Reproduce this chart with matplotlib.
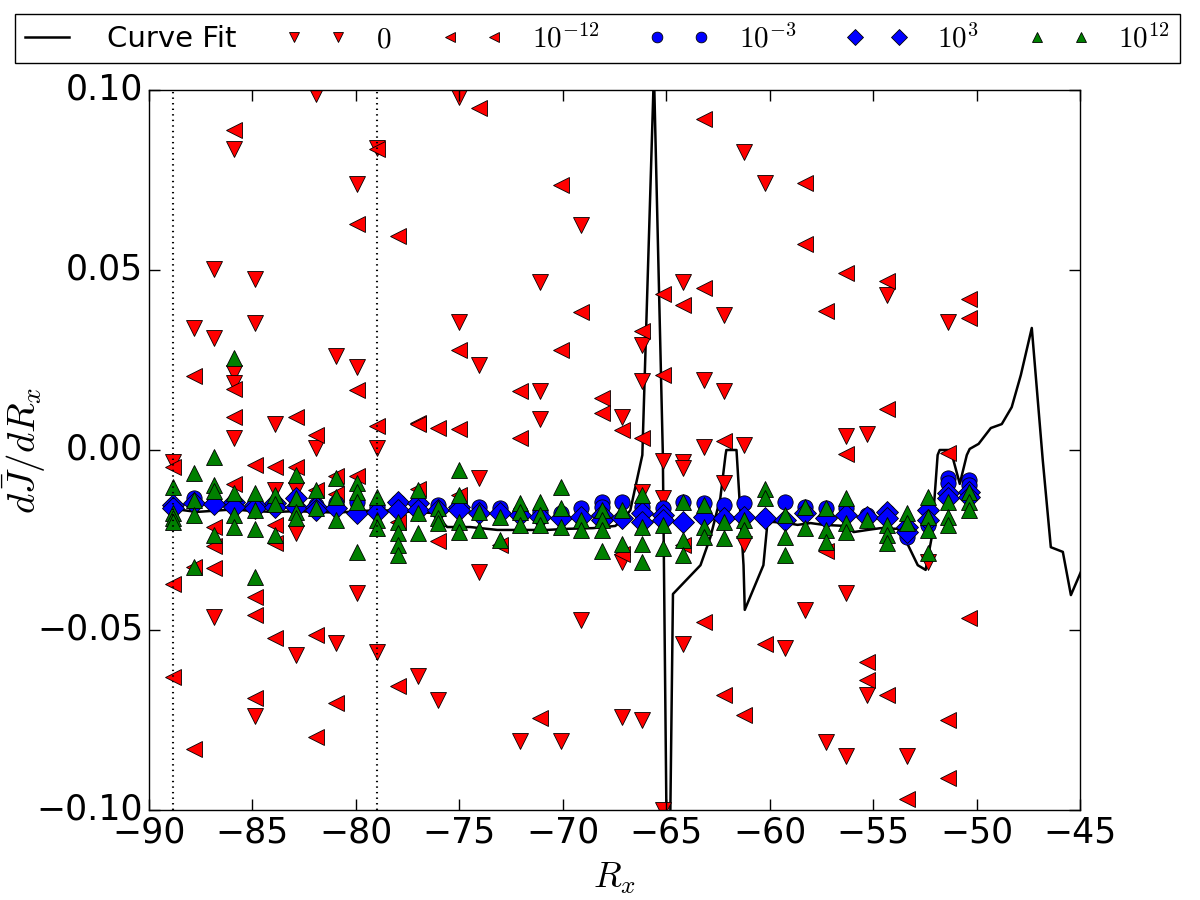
import numpy as np
import matplotlib
matplotlib.use('Agg')
import matplotlib.pyplot as plt
from matplotlib.lines import Line2D
from matplotlib.legend_handler import HandlerLine2D

plt.style.use('classic')

# column positions of R_x (one per scan step)
rx = [-88.82, -87.83, -86.85, -85.86, -84.88, -83.89, -82.91, -81.92, -80.93, -79.95,
      -78.96, -77.98, -76.99, -76.01, -75.02, -74.04, -73.05, -72.06, -71.08, -70.09,
      -69.11, -68.12, -67.14, -66.15, -65.16, -64.18, -63.19, -62.21, -61.22, -60.24,
      -59.25, -58.27, -57.28, -56.29, -55.31, -54.32, -53.34, -52.35, -51.37, -50.38]

# series "0" (down triangles): (column index, value)
zero_col = [7, 3, 9, 10, 2, 4, 1, 2, 4, 3, 3, 8, 9, 3, 5, 7, 10, 0, 6, 5, 6, 9, 2, 8, 6, 10, 4,
            14, 20, 18, 14, 15, 18, 18, 15,
            28, 29, 25, 27, 23, 23, 26, 27, 22, 26, 28, 24, 25, 33, 35, 38, 34,
            23, 24, 25, 27, 28, 37,
            12, 13, 15, 17, 19, 20, 22, 22, 23, 24, 25, 30, 31, 32, 33, 33, 34, 36]
zero_y = [0.099, 0.0836, 0.0739, 0.084, 0.0503, 0.0475, 0.0339, 0.031, 0.0353, 0.0214, 0.0186,
          0.0261, 0.023, 0.0033, 0.0072, 0.0006, 0.0006, -0.0033, -0.011, -0.011, -0.023, -0.0397,
          -0.0464, -0.0536, -0.057, -0.056, -0.074,
          0.098, 0.0625, 0.0467, 0.0356, 0.0236, 0.0164, 0.0086, -0.0079,
          0.0828, 0.0742, 0.0467, 0.0375, 0.0292, 0.0192, 0.0194, 0.0164, 0.0092, 0.0008, 0.0014,
          -0.0030, -0.0032, 0.0040, 0.043, 0.0356, 0.0044,
          -0.0116, -0.0134, -0.005, -0.0093, -0.026, -0.031,
          -0.0628, -0.0694, -0.0339, -0.0808, -0.0808, -0.0472, -0.0742, -0.0311, -0.075, -0.100,
          -0.054, -0.055, -0.0444, -0.081, -0.085, -0.0397, -0.068, -0.085]

# series 1e-12 (left triangles)
em12_col = [3, 9, 10, 1, 3, 9, 3, 6, 7, 10, 4, 5, 6, 0, 3, 8, 9, 7, 8, 2, 2, 5, 5, 1, 2, 0, 4, 4,
            5, 7, 0, 4, 8, 7, 1,
            15, 19, 11, 20, 14, 19, 17, 21, 21, 12, 12, 13, 14, 17,
            26, 31, 31, 33, 26, 24, 25, 32, 23, 24, 22, 23, 27, 33, 35, 39, 39, 35, 38,
            11, 12, 13, 14, 16, 22, 25, 32,
            11, 18, 26, 27, 28, 29, 34, 34, 35, 36, 38, 38, 39]
em12_y = [0.089, 0.0628, 0.0836, 0.0206, 0.0169, 0.0167, 0.0092, 0.0092, 0.0042, 0.0067, -0.0042,
          -0.0047, -0.0047, -0.0047, -0.0094, -0.0072, -0.0072, -0.011, -0.0122, -0.0214, -0.0267,
          -0.0208, -0.0258, -0.0325, -0.0328, -0.0372, -0.0408, -0.0458, -0.0522, -0.0514, -0.063,
          -0.069, -0.0703, -0.0797, -0.083,
          0.095, 0.0736, 0.0594, 0.0383, 0.0278, 0.0278, 0.0164, 0.0144, 0.0103, 0.0075, 0.0072,
          0.0061, 0.0058, 0.0033,
          0.092, 0.0742, 0.0572, 0.0492, 0.045, 0.0433, 0.0403, 0.0386, 0.033, 0.0208, 0.0056,
          0.0033, 0.0025, -0.0012, 0.047, 0.042, 0.0367, 0.0114, -0.0008,
          -0.020, -0.0107, -0.0253, -0.0125, -0.0264, -0.029, -0.0264, -0.028,
          -0.0656, -0.0744, -0.0478, -0.068, -0.0736, -0.054, -0.059, -0.064, -0.068, -0.097,
          -0.075, -0.091, -0.0467]

# series 1e-3 (circles), values per column
em3_y = [[-0.0155], [-0.0133], [-0.0148], [-0.0144], [-0.0153], [-0.0148], [-0.0134], [-0.0153],
         [-0.0148], [-0.0144], [-0.0157], [-0.0144], [-0.0148], [-0.0153], [-0.0153], [-0.0157],
         [-0.0162], [-0.0171], [-0.0171], [-0.0176], [-0.0162], [-0.0144, -0.0157], [-0.0144],
         [-0.0157], [-0.0162], [-0.0144], [-0.0148], [-0.0153], [-0.0148], [-0.0190], [-0.0144],
         [-0.0157], [-0.0162], [-0.0162], [-0.0181], [-0.0171], [-0.0241], [-0.0208],
         [-0.0079, -0.0093], [-0.0083, -0.0097]]

# series 1e3 (diamonds)
e3_y = [[-0.0153, -0.0162], [-0.0147], [-0.0150], [-0.0144, -0.0158], [-0.0153, -0.0162],
        [-0.0148, -0.0157], [-0.0134, -0.0157], [-0.0157, -0.0167], [-0.0162], [-0.0176],
        [-0.0171], [-0.0144, -0.0167], [-0.0148, -0.0167], [-0.0167], [-0.0157, -0.0167],
        [-0.0176], [-0.0176], [-0.0181], [-0.0185], [-0.0190], [-0.0185], [-0.0181, -0.0194],
        [-0.0190], [-0.0176, -0.0199], [-0.0181, -0.0194], [-0.0199], [-0.0185], [-0.0190],
        [-0.0185], [-0.0190], [-0.0194], [-0.0176], [-0.0190], [-0.0181], [-0.0185],
        [-0.0171, -0.0190], [-0.0213, -0.0227], [-0.0167, -0.0194], [-0.0120, -0.0134],
        [-0.0116, -0.0130]]

# series 1e12 (up triangles)
e12_y = [[-0.0103, -0.0175, -0.019, -0.020], [-0.0064, -0.0139, -0.018, -0.0325],
         [-0.002, -0.0097, -0.0115, -0.0236], [0.0256, -0.012, -0.018, -0.0214],
         [-0.012, -0.0167, -0.022, -0.0353], [-0.0125, -0.015, -0.0236],
         [-0.0069, -0.0134, -0.0171, -0.019], [-0.011, -0.016], [-0.0078, -0.0131, -0.0194],
         [-0.0092, -0.0117, -0.0144, -0.0283], [-0.013, -0.0194, -0.0217],
         [-0.020, -0.0231, -0.0264, -0.0292], [-0.011, -0.0176, -0.023], [-0.0162, -0.019, -0.0204],
         [-0.0056, -0.0125, -0.020, -0.0227], [-0.0171, -0.0222], [-0.0185, -0.025],
         [-0.0148, -0.0171, -0.0208], [-0.0144, -0.0181, -0.0208], [-0.0102, -0.0162, -0.0213],
         [-0.0194, -0.0222], [-0.0167, -0.0194, -0.0222, -0.028], [-0.0167, -0.026],
         [-0.0125, -0.0213, -0.026, -0.031], [-0.0208, -0.0273], [-0.0144, -0.025, -0.0292],
         [-0.0153, -0.0213, -0.0241], [-0.0199, -0.0245], [-0.0194, -0.0222], [-0.0107, -0.0134],
         [-0.0181, -0.0241, -0.0292], [-0.0157, -0.0218], [-0.0162, -0.0222, -0.0255],
         [-0.0134, -0.0204, -0.0227], [-0.0194], [-0.0208, -0.0236, -0.0259], [-0.0176, -0.0204],
         [-0.013, -0.0185, -0.0222, -0.0287], [-0.0144, -0.0185, -0.0208], [-0.0116, -0.0144, -0.0167]]

# curve fit
fit_x = [-88.79, -88.36, -87.68, -86.90, -85.9, -84.9, -83.9, -82.9, -81.9, -80.9, -79.9, -78.82,
         -77.23, -76.26, -75.58, -74.47, -73.16, -72.05, -70.74, -69.78, -68.52, -67.46, -67.07,
         -66.73, -66.15, -65.59, -65.16, -64.9, -64.67, -63.34, -62.86, -62.38, -62.13, -62.09,
         -61.6, -61.26, -61.2, -60.3, -60.1, -59.8, -59.13, -58.65, -58.02, -57.39, -56.33,
         -55.94, -55.26, -54.63, -53.81, -53.43, -52.84, -52.46, -52.17, -51.88, -51.78, -51.25,
         -50.81, -50.47, -50.33, -49.9, -49.31, -48.78, -48.3, -47.86, -47.33, -46.8, -46.41,
         -45.83, -45.44, -44.96]
fit_y = [-0.0153, -0.0167, -0.0172, -0.0169, -0.0165, -0.0170, -0.0172, -0.0170, -0.0172, -0.0174,
         -0.0170, -0.0167, -0.0172, -0.0175, -0.0214, -0.0214, -0.0222, -0.0222, -0.0222, -0.0219,
         -0.0217, -0.0211, -0.0194, -0.0167, -0.0014, 0.105, -0.001, -0.15, -0.040, -0.032,
         -0.0242, -0.0133, -0.0014, 0.0, 0.0, -0.032, -0.0444, -0.032, -0.020, -0.020, -0.0203,
         -0.0208, -0.0203, -0.0208, -0.0211, -0.0228, -0.0222, -0.0217, -0.0219, -0.025, -0.032,
         -0.0333, -0.0244, -0.0014, 0.0, 0.0, -0.0094, -0.0014, 0.0003, 0.0017, 0.0061, 0.0072,
         0.0119, 0.0208, 0.0339, -0.0028, -0.027, -0.0283, -0.0403, -0.0339]

guide_x = [-88.82, -78.97]


def expand(cols, per_col):
    xs, ys = [], []
    for c, vals in zip(cols, per_col):
        for v in vals:
            xs.append(rx[c])
            ys.append(v)
    return xs, ys


fig = plt.figure(figsize=(12, 9), dpi=100, facecolor='white')
ax = fig.add_axes([0.124, 0.1, 0.776, 0.8])

mk = dict(ms=11, mec='k', mew=0.6, ls='none')
ax.plot(fit_x, fit_y, 'k-', lw=1.8, label='Curve Fit')
ax.plot([rx[c] for c in zero_col], zero_y, 'rv', label='$0$', **mk)
ax.plot([rx[c] for c in em12_col], em12_y, 'r<', label='$10^{-12}$', **mk)
x3, y3 = expand(range(len(rx)), em3_y)
ax.plot(x3, y3, 'bo', label='$10^{-3}$', **mk)
xd, yd = expand(range(len(rx)), e3_y)
ax.plot(xd, yd, 'bD', label='$10^{3}$', **mk)
xg, yg = expand(range(len(rx)), e12_y)
ax.plot(xg, yg, 'g^', label='$10^{12}$', **mk)

for gx in guide_x:
    ax.axvline(gx, color='k', ls=':', lw=1.5)

ax.set_xlim(-90, -45)
ax.set_ylim(-0.10, 0.10)
ax.set_xticks(np.arange(-90, -44, 5))
ax.set_yticks([-0.10, -0.05, 0.0, 0.05, 0.10])
ax.set_yticklabels(['\u22120.10', '\u22120.05', '0.00', '0.05', '0.10'])
ax.set_xticklabels(['\u2212%d' % -v for v in range(-90, -44, 5)])
ax.tick_params(labelsize=25, length=8, width=1)
ax.tick_params(axis='x', pad=4)
ax.set_xlabel('$R_x$', fontsize=26, labelpad=8)
ax.set_ylabel(r'$d\bar{J}/dR_x$', fontsize=28, labelpad=-8)

# old-style legend: markers sit at the ends of the handle
ax.legend(loc='lower left', bbox_to_anchor=(-0.144, 1.037), ncol=6, numpoints=2,
          markerscale=0.7, fontsize=21, borderaxespad=0, borderpad=0.35,
          handlelength=1.5, handletextpad=1.3, columnspacing=2.0, frameon=True,
          handler_map={Line2D: HandlerLine2D(marker_pad=0)})

fig.savefig('out.png', dpi=100, facecolor='white')
